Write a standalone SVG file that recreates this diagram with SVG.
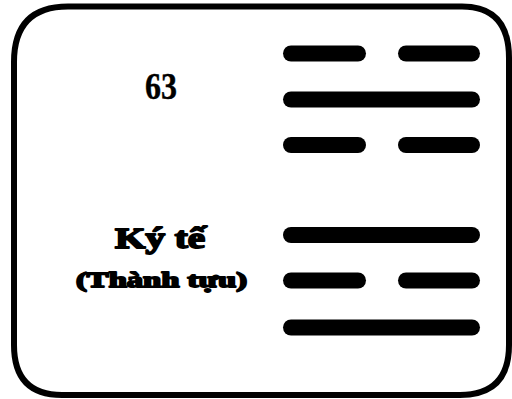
<svg xmlns="http://www.w3.org/2000/svg" width="512" height="399" viewBox="0 0 512 399">
<style>
.frame{fill:#fff;stroke:#000;stroke-width:6}
.yao{stroke:#000;stroke-width:16;stroke-linecap:round}
.t{font-family:"Liberation Serif","Times New Roman",serif;font-weight:bold;fill:#000;text-anchor:start}
.heavy{stroke:#000;stroke-width:1.8;stroke-linejoin:round}
</style>
<rect width="512" height="399" fill="#fff"/>
<g id="card">
<path class="frame" d="M14,62 Q14,6.5 68,6.5 L462,6.5 Q509,6.5 509,58 L509,345 Q509,395 460,395 L62,395 Q14,395 14,345 Z"/>
</g>
<g id="number"><text class="t" x="145" y="99" font-size="38" textLength="32" lengthAdjust="spacingAndGlyphs" stroke="#000" stroke-width="0.4">63</text></g>
<g id="name">
<text class="t heavy" x="115" y="248" font-size="30" textLength="90" lengthAdjust="spacingAndGlyphs">Ký tế</text>
<text class="t heavy" x="76" y="287" font-size="22" textLength="171" lengthAdjust="spacingAndGlyphs">(Thành tựu)</text>
</g>
<g id="hexagram">
<line class="yao" x1="291" y1="53.5" x2="358" y2="53.5"/>
<line class="yao" x1="406" y1="53.5" x2="472" y2="53.5"/>
<line class="yao" x1="291" y1="99.5" x2="472" y2="99.5"/>
<line class="yao" x1="291" y1="145" x2="358" y2="145"/>
<line class="yao" x1="406" y1="145" x2="472" y2="145"/>
<line class="yao" x1="291" y1="235" x2="472" y2="235"/>
<line class="yao" x1="291" y1="280.5" x2="358" y2="280.5"/>
<line class="yao" x1="406" y1="280.5" x2="472" y2="280.5"/>
<line class="yao" x1="291" y1="327.5" x2="472" y2="327.5"/>
</g>
</svg>
